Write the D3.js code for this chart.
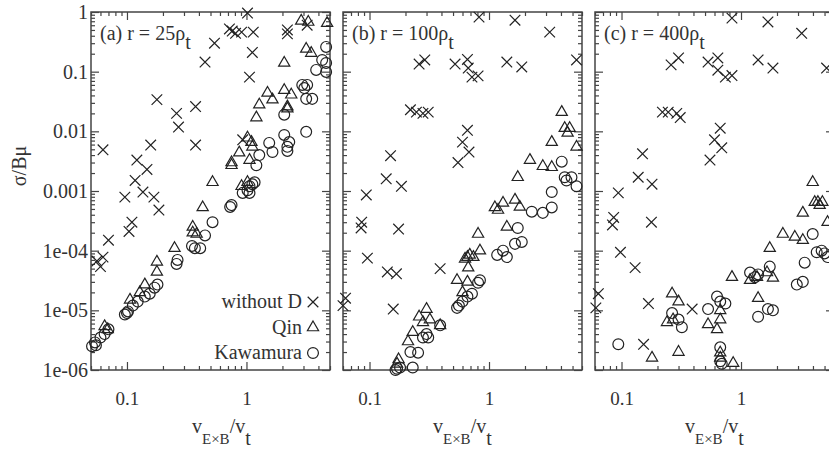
<!DOCTYPE html>
<head>
  <meta charset="utf-8">
  <title>sigma/Bmu versus vExB/vt</title>
  <style>
    body { margin: 0; background: #fff; }
    text { font-family: "Liberation Serif", "DejaVu Serif", serif; fill: #333; }
    .frame { fill: none; stroke: #444; stroke-width: 1.5; }
    .axis path { display: none; }
    .axis line { stroke: #444; stroke-width: 1.2; }
    .axis text { font-size: 20px; fill: #333; }
    .mark { fill: none; stroke: #222; stroke-width: 1.2; }
  </style>
</head>
<body>
<script src="https://cdn.jsdelivr.net/npm/d3@7"></script>
<script>
// values, [v_ExB/v_t, sigma/Bmu]
var aWithoutD = [[1.02,0.96],[0.72,0.52],[0.76,0.48],[0.81,0.44],[0.91,0.46],[1.14,0.46],[1.12,0.21],
  [1.06,0.081],[0.54,0.30],[0.45,0.145],[0.178,0.034],[0.26,0.020],[0.27,0.0118],[0.375,0.026],
  [0.375,0.0059],[0.158,0.0059],[0.063,0.0049],[0.121,0.0033],[0.147,0.0023],[0.117,0.0015],
  [0.136,0.00096],[0.096,0.00079],[0.168,0.00079],[0.185,0.00048],[0.11,0.0003],[0.104,0.00021],
  [0.07,0.00015],[0.063,7.8e-5],[0.056,6.7e-5],[0.06,5.4e-5],[0.93,0.0072],[2.2,0.5],[2.2,0.43],[3.22,0.6]];
var aQin = [[2.87,0.71],[3.29,0.68],[4.73,0.65],[3.16,0.24],[3.48,0.205],[2.07,0.14],[1.5,0.044],
  [2.07,0.049],[2.37,0.041],[1.28,0.028],[1.65,0.034],[2.2,0.026],[2.2,0.024],[1.21,0.017],
  [1.02,0.0078],[1.1,0.0066],[1.12,0.0055],[0.87,0.0044],[1.06,0.0033],[0.75,0.003],[0.75,0.0027],
  [0.52,0.0014],[0.91,0.0012],[1.02,0.0014],[0.43,0.00053],[0.355,0.00025],[0.355,0.0002],
  [0.383,0.00019],[0.25,0.00011],[0.178,6.5e-5],[0.178,4.4e-5],[0.141,2.7e-5],[0.128,2.0e-5],
  [0.106,1.5e-5],[0.065,5.4e-6],[0.069,4.8e-6]];
var aKawamura = [[4.64,0.26],[4.3,0.157],[4.64,0.14],[3.83,0.107],[4.64,0.099],[2.93,0.06],[3.22,0.06],
  [3.05,0.053],[3.16,0.035],[3.55,0.035],[2.07,0.019],[3.16,0.0098],[2.07,0.0087],[2.28,0.0066],
  [2.2,0.0055],[2.2,0.0047],[1.65,0.0045],[1.55,0.0064],[1.28,0.004],[1.21,0.0027],[1.17,0.0014],
  [1.12,0.0013],[1.06,0.0012],[1.02,0.00103],[0.93,0.00093],[1.06,0.00093],[0.75,0.00058],
  [0.73,0.00054],[0.52,0.0003],[0.45,0.00018],[0.41,0.00011],[0.35,0.00012],[0.37,0.00011],
  [0.265,7.0e-5],[0.26,6.0e-5],[0.18,2.7e-5],[0.17,2.4e-5],[0.155,1.9e-5],[0.141,1.7e-5],
  [0.123,1.4e-5],[0.112,1.2e-5],[0.102,9.6e-6],[0.096,8.5e-6],[0.1,9.0e-6],[0.07,4.8e-6],
  [0.065,4.0e-6],[0.06,3.5e-6],[0.054,2.9e-6],[0.051,2.5e-6],[0.055,2.6e-6]];

var bWithoutD = [[0.825,0.82],[1.65,0.73],[3.22,0.46],[5.4,0.157],[0.26,0.134],[0.29,0.157],[0.52,0.134],
  [0.66,0.16],[0.67,0.115],[0.72,0.081],[0.81,0.085],[1.41,0.145],[1.88,0.12],[0.22,0.023],
  [0.247,0.021],[0.28,0.020],[0.31,0.021],[0.15,0.0039],[0.138,0.0016],[0.185,0.0012],
  [0.094,0.00086],[0.66,0.0104],[0.6,0.0066],[0.68,0.0045],[0.55,0.003],[0.086,0.0003],
  [0.085,0.00024],[0.175,0.00023],[0.096,7.5e-5],[0.141,4.4e-5],[0.168,4.1e-5],[0.39,5.0e-5],
  [0.063,1.6e-5],[0.06,1.2e-5],[0.158,1.05e-5]];
var bQin = [[4.06,0.021],[4.3,0.0113],[4.73,0.0113],[4.55,0.0094],[3.35,0.0066],[5.4,0.0055],
  [2.2,0.0033],[2.82,0.0026],[3.35,0.0025],[1.74,0.0017],[1.12,0.00053],[1.19,0.00048],
  [1.31,0.00063],[1.65,0.00071],[1.81,0.00054],[1.41,0.00025],[0.81,0.00019],[0.84,0.0001],
  [0.74,7.8e-5],[0.66,7.8e-5],[0.63,7.3e-5],[0.69,8.5e-5],[0.67,5.2e-5],[0.54,3.2e-5],
  [0.66,3.0e-5],[0.6,2.0e-5],[0.3,1.05e-5],[0.26,7.8e-6],[0.32,7.0e-6],[0.39,5.6e-6],
  [0.28,6.3e-6],[0.23,4.3e-6],[0.21,3.0e-6],[0.175,1.5e-6],[0.17,1.27e-6]];
var bKawamura = [[4.06,0.0031],[4.3,0.0017],[4.45,0.0015],[4.9,0.0017],[5.4,0.0012],[3.35,0.00096],
  [2.28,0.00045],[2.82,0.00043],[3.35,0.00053],[1.74,0.00024],[1.65,0.00013],[1.88,0.00014],
  [1.31,0.0001],[1.17,8.5e-5],[1.41,7.8e-5],[0.84,3.2e-5],[0.81,2.9e-5],[0.72,1.9e-5],
  [0.66,1.7e-5],[0.6,1.4e-5],[0.54,1.1e-5],[0.56,1.2e-5],[0.39,5.6e-6],[0.3,4.0e-6],
  [0.28,3.5e-6],[0.31,3.5e-6],[0.22,2.0e-6],[0.255,1.95e-6],[0.23,1.1e-6],[0.18,1.1e-6],
  [0.17,1.05e-6],[0.165,1.0e-6]];

var cWithoutD = [[0.84,0.79],[1.68,0.68],[3.22,0.44],[5.2,0.115],[0.26,0.13],[0.3,0.17],[0.53,0.145],
  [0.64,0.17],[0.64,0.106],[0.74,0.081],[0.84,0.086],[1.39,0.157],[1.85,0.115],[0.22,0.021],
  [0.246,0.021],[0.29,0.02],[0.31,0.017],[0.67,0.0113],[0.6,0.0072],[0.69,0.0053],[0.55,0.0033],
  [0.15,0.0042],[0.138,0.0017],[0.18,0.0013],[0.094,0.00093],[0.086,0.00036],[0.084,0.00027],
  [0.178,0.0003],[0.098,9.4e-5],[0.13,5.2e-5],[0.064,1.9e-5],[0.061,1.1e-5],[0.168,1.3e-5],
  [0.39,1.05e-5],[0.153,2.7e-6]];
var cQin = [[3.98,0.0014],[4.14,0.00065],[4.4,0.00065],[4.8,0.00065],[4.55,0.00058],[3.29,0.00043],
  [5.3,0.0003],[2.24,0.00019],[2.82,0.00017],[3.29,0.00015],[1.74,0.00011],[0.84,3.6e-5],
  [1.19,3.2e-5],[1.36,3.6e-5],[1.65,4.3e-5],[1.85,3.5e-5],[1.39,1.6e-5],[0.265,1.9e-5],
  [0.3,1.4e-5],[0.24,6.3e-6],[0.27,7.0e-6],[0.53,5.8e-6],[0.67,7.0e-6],[0.63,4.8e-6],
  [0.67,1.0e-5],[0.3,2.0e-6],[0.18,1.6e-6],[0.67,1.95e-6],[0.67,1.6e-6],[0.86,1.3e-6]];
var cKawamura = [[3.98,0.00019],[4.3,9.4e-5],[4.73,0.0001],[5.0,9.0e-5],[5.3,7.8e-5],[3.41,6.3e-5],
  [2.93,2.7e-5],[3.29,3.0e-5],[1.74,5.4e-5],[1.19,4.3e-5],[1.31,3.6e-5],[1.39,4.0e-5],
  [0.63,1.7e-5],[0.67,1.4e-5],[0.74,1.3e-5],[0.53,1.05e-5],[1.68,1.05e-5],[1.85,1.0e-5],
  [1.39,7.8e-6],[0.265,9.0e-6],[0.3,7.0e-6],[0.32,5.2e-6],[0.094,2.7e-6],[0.67,2.4e-6],
  [0.67,1.4e-6],[0.69,1.27e-6]];

var panelNames = ["(a) r = 25ρ", "(b) r = 100ρ", "(c) r = 400ρ"];
var xDomains = [[0.05, 5], [0.06, 6], [0.06, 6]];
var yTickLabels = ["1e-06", "1e-05", "1e-04", "0.001", "0.01", "0.1", "1"];
var xTickLabels = ["0.1", "1"];
var legendNames = ["without D", "Qin", "Kawamura"];

var panels = [
  {series: [aWithoutD, aQin, aKawamura]},
  {series: [bWithoutD, bQin, bKawamura]},
  {series: [cWithoutD, cQin, cKawamura]}
];

// layout
var W = 829, H = 455;
var plotTop = 12, plotBottom = 370, pw = 239;
var lefts = [91, 343, 595];

var svg = d3.select("body").append("svg")
    .attr("width", W)
    .attr("height", H);

var y = d3.scaleLog().domain([1e-6, 1]).range([plotBottom, plotTop]);

// marker shapes: x, triangle, circle
var shapes = [
  d3.symbol().type(d3.symbolX).size(75),
  d3.symbol().type(d3.symbolTriangle2).size(90),
  d3.symbol().type(d3.symbolCircle).size(92)
];

function isMajor(v) {
  var l = Math.log10(v);
  return Math.abs(l - Math.round(l)) < 1e-6;
}

panels.forEach(function(p, i) {
  var x0 = lefts[i];
  var x = d3.scaleLog().domain(xDomains[i]).range([x0, x0 + pw]);
  var g = svg.append("g");

  var xAll = x.ticks(), xMaj = xAll.filter(isMajor), xMin = xAll.filter(function(v) { return !isMajor(v); });
  var yAll = y.ticks(), yMaj = yAll.filter(isMajor), yMin = yAll.filter(function(v) { return !isMajor(v); });

  // bottom axis with labels
  g.append("g").attr("class", "axis")
    .attr("transform", "translate(0," + plotBottom + ")")
    .call(d3.axisBottom(x).tickValues(xMaj).tickSize(-8).tickPadding(22)
      .tickFormat(function(d, k) { return xTickLabels[k]; }))
    .selectAll("text").style("font-size", "19px");
  g.append("g").attr("class", "axis")
    .attr("transform", "translate(0," + plotBottom + ")")
    .call(d3.axisBottom(x).tickValues(xMin).tickSize(-4).tickFormat(""));
  // top axis, mirrored ticks
  g.append("g").attr("class", "axis")
    .attr("transform", "translate(0," + plotTop + ")")
    .call(d3.axisTop(x).tickValues(xMaj).tickSize(-8).tickFormat(""));
  g.append("g").attr("class", "axis")
    .attr("transform", "translate(0," + plotTop + ")")
    .call(d3.axisTop(x).tickValues(xMin).tickSize(-4).tickFormat(""));

  // left axis (labels only on first panel)
  var left = d3.axisLeft(y).tickValues(yMaj).tickSize(-8).tickPadding(3);
  if (i === 0) left.tickFormat(function(d) { return yTickLabels[Math.round(Math.log10(d)) + 6]; });
  else left.tickFormat("");
  g.append("g").attr("class", "axis")
    .attr("transform", "translate(" + x0 + ",0)")
    .call(left);
  g.append("g").attr("class", "axis")
    .attr("transform", "translate(" + x0 + ",0)")
    .call(d3.axisLeft(y).tickValues(yMin).tickSize(-4).tickFormat(""));
  // right axis
  g.append("g").attr("class", "axis")
    .attr("transform", "translate(" + (x0 + pw) + ",0)")
    .call(d3.axisRight(y).tickValues(yMaj).tickSize(-8).tickFormat(""));
  g.append("g").attr("class", "axis")
    .attr("transform", "translate(" + (x0 + pw) + ",0)")
    .call(d3.axisRight(y).tickValues(yMin).tickSize(-4).tickFormat(""));

  // frame
  g.append("rect").attr("class", "frame")
    .attr("x", x0).attr("y", plotTop)
    .attr("width", pw).attr("height", plotBottom - plotTop);

  // points
  p.series.forEach(function(data, s) {
    g.selectAll(".s" + s)
        .data(data)
      .enter().append("path")
        .attr("class", "mark s" + s)
        .attr("d", shapes[s])
        .attr("transform", function(d) { return "translate(" + x(d[0]) + "," + y(d[1]) + ")"; });
  });

  // panel label
  var lab = g.append("text")
    .attr("x", x0 + 9)
    .attr("y", 40)
    .style("font-size", "20px")
    .text(panelNames[i]);
  lab.append("tspan").attr("dy", 9).text("t");

  // x axis label
  var cx = (i === 0) ? x0 + 101 : x0 + 90;
  var xl = g.append("text")
    .attr("x", cx)
    .attr("y", 433)
    .style("font-size", "20px")
    .text("v");
  xl.append("tspan").attr("dy", 11).style("font-size", "15px").text("E×B");
  xl.append("tspan").attr("dy", -11).text("/v");
  xl.append("tspan").attr("dy", 12).text("t");
});

// y axis label
svg.append("text")
  .attr("transform", "translate(26,166) rotate(-90)")
  .attr("text-anchor", "middle")
  .style("font-size", "20px")
  .text("σ/Bμ");

// legend in panel (a)
legendNames.forEach(function(name, k) {
  var ly = 302 + k * 25.5;
  svg.append("text")
    .attr("x", 302)
    .attr("y", ly + 6)
    .attr("text-anchor", "end")
    .style("font-size", "20px")
    .text(name);
  svg.append("path")
    .attr("class", "mark")
    .attr("d", shapes[k])
    .attr("transform", "translate(313," + ly + ")");
});
</script>
</body>
